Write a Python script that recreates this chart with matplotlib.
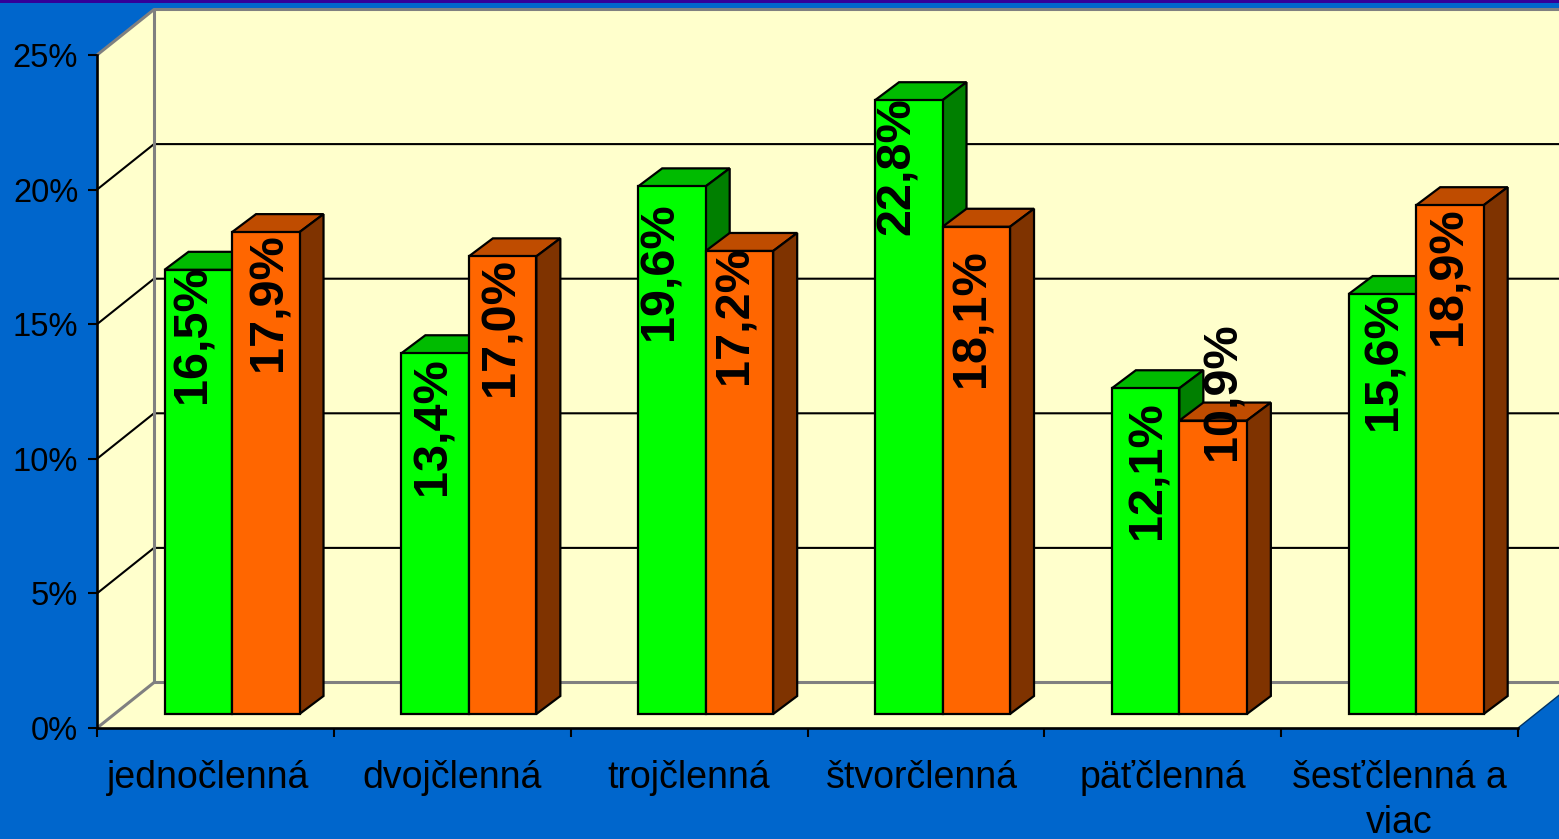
import matplotlib
matplotlib.use("Agg")
import matplotlib.pyplot as plt
from matplotlib.patches import Polygon, Rectangle
from matplotlib.transforms import ScaledTranslation

plt.rcParams['font.family'] = ['Liberation Sans', 'DejaVu Sans']

categories = ['jednočlenná', 'dvojčlenná', 'trojčlenná', 'štvorčlenná', 'päťčlenná', 'šesťčlenná a\nviac']
green_values = [16.5, 13.4, 19.6, 22.8, 12.1, 15.6]
orange_values = [17.9, 17.0, 17.2, 18.1, 10.9, 18.9]
y_ticks = [0, 5, 10, 15, 20, 25]

# label placement relative to the top centre of each bar (pixels)
GREEN_DX = [-5, -2, -12, -11, 2, 2]
GREEN_DY = [-5, 4, 16, -3, 13, -2]
ORANGE_DX = [3, -2, -4, -4, 10, -1]
ORANGE_DY = [1, 2, -5, 23, -98, 2]
# horizontal shift of the category labels (pixels)
CATEGORY_DX = [-7, 0, 0, -4, 0, 0]

W, H = 1559, 839
L, R, B, T = 97, 1518, 728, 55
BLUE = '#0066CC'
WALL = '#FFFFCC'
GREY = '#808080'

fig = plt.figure(figsize=(W / 100, H / 100), dpi=100, facecolor=BLUE)
fig.add_artist(Rectangle((0, 1 - 3 / H), 1, 3 / H, transform=fig.transFigure,
                         facecolor='#330099', edgecolor='none'))
ax = fig.add_axes([L / W, 1 - B / H, (R - L) / W, (B - T) / H])
ax.set_facecolor('none')
n = len(categories)
ax.set_xlim(0, n)
ax.set_ylim(0, 25)

px = n / (R - L)
py = 25 / (B - T)
DX, DY = 57 * px, 45.5 * py        # wall depth
BX, BY = 16.6 * px, 14 * py        # bar front offset from the axis plane
DBX, DBY = 24 * px, 18 * py        # bar depth
BW = 67.5 * px


def poly(pts, fc, z, ec='none', lw=0):
    ax.add_patch(Polygon(pts, closed=True, facecolor=fc, edgecolor=ec, linewidth=lw,
                         zorder=z, clip_on=False, joinstyle='miter'))


def seg(xs, ys, c, lw, z):
    ax.plot(xs, ys, color=c, lw=lw, zorder=z, clip_on=False, solid_capstyle='butt')


# walls and floor
poly([(0, 0), (0, 25), (DX, 25 + DY), (DX, DY)], WALL, 0.5)
poly([(DX, DY), (DX, 25 + DY), (n + DX, 25 + DY), (n + DX, DY)], WALL, 0.5)
poly([(0, 0), (n, 0), (n + DX, DY), (DX, DY)], WALL, 0.5)

for v in y_ticks[1:-1]:
    seg([0, DX, n + DX], [v, v + DY, v + DY], 'black', 1.5, 0.7)
seg([0, DX, n + DX], [25, 25 + DY, 25 + DY], GREY, 2.2, 0.8)
seg([0, DX, n + DX], [0, DY, DY], GREY, 2.2, 0.8)
seg([DX, DX], [DY, 25 + DY], GREY, 2.2, 0.8)
seg([n, n + DX], [0, DY], '#003366', 1.0, 0.8)


def bar3d(x0, val, front, top, side, z):
    y0 = BY
    y1 = BY + val
    x1 = x0 + BW
    ax.bar(x0, val, BW, bottom=y0, align='edge', color=front, edgecolor='black',
           linewidth=1.6, zorder=z + 0.2, clip_on=False)
    poly([(x0, y1), (x1, y1), (x1 + DBX, y1 + DBY), (x0 + DBX, y1 + DBY)], top, z, 'black', 1.6)
    poly([(x1, y0), (x1 + DBX, y0 + DBY), (x1 + DBX, y1 + DBY), (x1, y1)], side, z, 'black', 1.6)


for i in range(n):
    xc = i + 0.5 + BX
    bar3d(xc - BW, green_values[i], '#00FF00', '#00BB00', '#007F00', 3 + i * 2)
    bar3d(xc, orange_values[i], '#FF6600', '#BF4C00', '#7F3300', 4 + i * 2)


def label(x, v, dx, dy):
    ax.annotate(f'{v:.1f}%'.replace('.', ','), (x, BY + v), xytext=(dx, -dy),
                textcoords='offset pixels', rotation=90, ha='center', va='top',
                fontsize=35, fontweight='bold', color='black', zorder=30,
                annotation_clip=False)


for i in range(n):
    xc = i + 0.5 + BX
    label(xc - BW / 2, green_values[i], GREEN_DX[i], GREEN_DY[i])
    label(xc + BW / 2, orange_values[i], ORANGE_DX[i], ORANGE_DY[i])

# axes
for s in ('top', 'right'):
    ax.spines[s].set_visible(False)
for s in ('left', 'bottom'):
    ax.spines[s].set_linewidth(1.9)
    ax.spines[s].set_zorder(2.5)
ax.set_yticks(y_ticks)
ax.set_yticklabels([f'{v}%' for v in y_ticks])
ax.tick_params(axis='y', length=6.5, width=1.5, labelsize=23.5, pad=7, labelcolor='black')
ax.set_xticks(range(n + 1))
ax.set_xticklabels([])
ax.set_xticks([i + 0.5 for i in range(n)], labels=categories, minor=True)
ax.tick_params(axis='x', which='major', length=6.5, width=1.5)
ax.tick_params(axis='x', which='minor', length=0, labelsize=27, pad=23)
for t in ax.get_xminorticklabels():
    t.set_linespacing(1.33)
for tick, shift in zip(ax.xaxis.get_minor_ticks(), CATEGORY_DX):
    lab = tick.label1
    lab.set_transform(lab.get_transform() + ScaledTranslation(shift / 100, 0, fig.dpi_scale_trans))

fig.savefig('out.png', dpi=100, facecolor=BLUE)
